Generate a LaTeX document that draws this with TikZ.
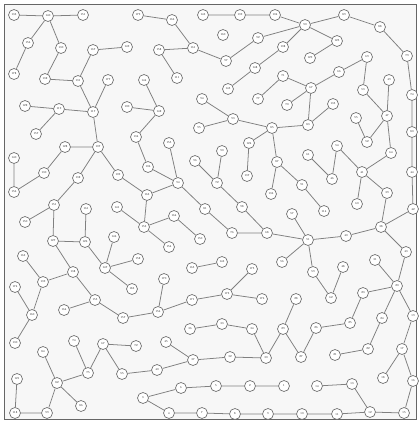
\documentclass[tikz,border=0pt]{standalone}
\begin{document}
\begin{tikzpicture}[x=0.1cm,y=-0.1cm,
  v/.style={circle,draw=black!60,fill=white,line width=1.8pt,minimum size=1.1cm,inner sep=0pt,font=\fontsize{8.5}{8.5}\selectfont},
  e/.style={draw=black!50,line width=2.2pt}]
\useasboundingbox (0,0) rectangle (420,423);
\draw[fill=black!3,draw=black!60,line width=2pt] (4,4) rectangle (416,419);
% nodes
\node[v] (n133) at (14,15) {133};
\node[v] (n140) at (48,16) {140};
\node[v] (n151) at (83,15) {151};
\node[v] (n156) at (28,43) {156};
\node[v] (n130) at (61,48) {130};
\node[v] (n167) at (93,50) {167};
\node[v] (n178) at (14,74) {178};
\node[v] (n132) at (45,79) {132};
\node[v] (n131) at (78,81) {131};
\node[v] (n177) at (108,80) {177};
\node[v] (n149) at (127,47) {149};
\node[v] (n122) at (25,106) {122};
\node[v] (n119) at (59,109) {119};
\node[v] (n117) at (93,112) {117};
\node[v] (n157) at (36,134) {157};
\node[v] (n179) at (138,15) {179};
\node[v] (n166) at (172,20) {166};
\node[v] (n143) at (203,15) {143};
\node[v] (n158) at (159,50) {158};
\node[v] (n161) at (193,48) {161};
\node[v] (n111) at (177,78) {111};
\node[v] (n144) at (144,80) {144};
\node[v] (n100) at (127,107) {100};
\node[v] (n142) at (159,111) {142};
\node[v] (n134) at (136,137) {134};
\node[v] (n155) at (169,143) {155};
\node[v] (n139) at (240,15) {139};
\node[v] (n104) at (275,15) {104};
\node[v] (n90) at (305,25) {90};
\node[v] (n160) at (223,35) {160};
\node[v] (n92) at (258,38) {92};
\node[v] (n108) at (283,47) {108};
\node[v] (n97) at (226,61) {97};
\node[v] (n129) at (310,58) {129};
\node[v] (n125) at (337,41) {125};
\node[v] (n89) at (344,15) {89};
\node[v] (n88) at (380,27) {88};
\node[v] (n79) at (407,56) {79};
\node[v] (n148) at (255,68) {148};
\node[v] (n145) at (228,89) {145};
\node[v] (n71) at (283,76) {71};
\node[v] (n67) at (311,88) {67};
\node[v] (n77) at (258,99) {77};
\node[v] (n70) at (287,105) {70};
\node[v] (n93) at (233,119) {93};
\node[v] (n85) at (272,128) {85};
\node[v] (n83) at (308,125) {83};
\node[v] (n124) at (249,143) {124};
\node[v] (n94) at (202,99) {94};
\node[v] (n95) at (199,128) {95};
\node[v] (n135) at (333,104) {135};
\node[v] (n69) at (367,57) {69};
\node[v] (n66) at (339,72) {66};
\node[v] (n53) at (363,90) {53};
\node[v] (n49) at (389,80) {49};
\node[v] (n74) at (412,95) {74};
\node[v] (n55) at (356,118) {55};
\node[v] (n47) at (387,116) {47};
\node[v] (n52) at (367,142) {52};
\node[v] (n80) at (412,132) {80};
\node[v] (n54) at (337,146) {54};
\node[v] (n64) at (391,153) {64};
\node[v] (n41) at (362,172) {41};
\node[v] (n44) at (412,172) {44};
\node[v] (n46) at (332,179) {46};
\node[v] (n39) at (387,193) {39};
\node[v] (n60) at (357,204) {60};
\node[v] (n42) at (413,209) {42};
\node[v] (n38) at (381,227) {38};
\node[v] (n40) at (346,236) {40};
\node[v] (n43) at (406,252) {43};
\node[v] (n31) at (375,260) {31};
\node[v] (n48) at (343,267) {48};
\node[v] (n59) at (313,272) {59};
\node[v] (n114) at (324,211) {114};
\node[v] (n61) at (308,155) {61};
\node[v] (n80b) at (222,151) {90};
\node[v] (n87) at (277,162) {87};
\node[v] (n72) at (217,183) {72};
\node[v] (n137) at (247,176) {137};
\node[v] (n136) at (271,194) {136};
\node[v] (n91) at (302,185) {91};
\node[v] (n98) at (242,207) {98};
\node[v] (n57) at (292,214) {57};
\node[v] (n76) at (232,233) {76};
\node[v] (n68) at (267,233) {68};
\node[v] (n51) at (308,240) {51};
\node[v] (n143b) at (222,262) {143};
\node[v] (n175) at (252,269) {175};
\node[v] (n56) at (282,262) {56};
\node[v] (n106) at (148,167) {106};
\node[v] (n109) at (118,175) {109};
\node[v] (n96) at (195,161) {96};
\node[v] (n94b) at (178,183) {94};
\node[v] (n163) at (147,195) {163};
\node[v] (n81) at (205,209) {81};
\node[v] (n141) at (117,207) {141};
\node[v] (n153) at (144,227) {153};
\node[v] (n164) at (174,216) {164};
\node[v] (n150c) at (200,239) {150};
\node[v] (n154) at (169,247) {154};
\node[v] (n146) at (114,237) {146};
\node[v] (n152) at (138,259) {152};
\node[v] (n147) at (105,268) {147};
\node[v] (n165) at (192,268) {165};
\node[v] (n170) at (164,279) {170};
\node[v] (n128) at (65,147) {128};
\node[v] (n107) at (98,147) {107};
\node[v] (n140b) at (14,158) {140};
\node[v] (n130b) at (44,173) {130};
\node[v] (n132b) at (78,178) {132};
\node[v] (n156b) at (14,192) {156};
\node[v] (n151b) at (54,205) {151};
\node[v] (n150) at (25,222) {150};
\node[v] (n161b) at (86,209) {161};
\node[v] (n127) at (53,241) {127};
\node[v] (n126) at (85,242) {126};
\node[v] (n163b) at (23,256) {163};
\node[v] (n138) at (73,272) {138};
\node[v] (n139b) at (43,282) {139};
\node[v] (n174) at (15,287) {174};
\node[v] (n160b) at (32,315) {160};
\node[v] (n155b) at (95,300) {155};
\node[v] (n164b) at (64,310) {164};
\node[v] (n136b) at (15,343) {130};
\node[v] (n74b) at (74,341) {74};
\node[v] (n67b) at (103,344) {67};
\node[v] (n84) at (43,352) {84};
\node[v] (n75) at (88,373) {75};
\node[v] (n82) at (57,383) {82};
\node[v] (n121) at (17,379) {121};
\node[v] (n86) at (81,406) {86};
\node[v] (n118) at (15,413) {118};
\node[v] (n99) at (47,413) {99};
\node[v] (n183) at (132,289) {183};
\node[v] (n157b) at (123,318) {157};
\node[v] (n156c) at (158,312) {156};
\node[v] (n171) at (192,300) {171};
\node[v] (n72b) at (136,346) {72};
\node[v] (n36) at (190,329) {36};
\node[v] (n45) at (166,342) {45};
\node[v] (n37) at (193,360) {37};
\node[v] (n55b) at (122,374) {55};
\node[v] (n40b) at (157,370) {40};
\node[v] (n3) at (143,398) {3};
\node[v] (n6) at (181,388) {6};
\node[v] (n4) at (169,413) {4};
\node[v] (n7) at (202,413) {7};
\node[v] (n173) at (227,294) {173};
\node[v] (n176) at (262,299) {176};
\node[v] (n33) at (222,324) {33};
\node[v] (n34) at (252,329) {34};
\node[v] (n28) at (296,299) {28};
\node[v] (n29) at (283,329) {29};
\node[v] (n32) at (230,357) {32};
\node[v] (n30) at (266,358) {30};
\node[v] (n27) at (301,357) {27};
\node[v] (n26) at (316,328) {26};
\node[v] (n5) at (216,386) {5};
\node[v] (n2) at (250,386) {2};
\node[v] (n1) at (284,386) {1};
\node[v] (n14) at (317,386) {14};
\node[v] (n8) at (235,414) {8};
\node[v] (n9) at (268,414) {9};
\node[v] (n10) at (302,414) {10};
\node[v] (n11) at (337,414) {11};
\node[v] (n12) at (370,412) {12};
\node[v] (n13) at (352,384) {13};
\node[v] (n15) at (404,413) {15};
\node[v] (n16) at (413,381) {16};
\node[v] (n18) at (383,378) {18};
\node[v] (n17) at (402,349) {17};
\node[v] (n21) at (335,355) {21};
\node[v] (n22) at (368,349) {22};
\node[v] (n25) at (350,323) {25};
\node[v] (n24) at (382,318) {24};
\node[v] (n19) at (413,316) {19};
\node[v] (n23) at (363,293) {23};
\node[v] (n20) at (397,286) {20};
\node[v] (n62) at (331,298) {62};
% edges
\path[e] (n133)--(n140) (n140)--(n151) (n140)--(n156) (n156)--(n178) (n140)--(n130) (n130)--(n132) (n132)--(n131) (n131)--(n167) (n167)--(n149) (n131)--(n117) (n177)--(n117) (n122)--(n119) (n119)--(n117) (n119)--(n157) (n117)--(n107);
\path[e] (n179)--(n166) (n166)--(n161) (n143)--(n139) (n158)--(n161) (n158)--(n111) (n161)--(n97) (n144)--(n142) (n100)--(n142) (n142)--(n134) (n134)--(n106) (n155)--(n94b);
\path[e] (n139)--(n104) (n104)--(n90) (n90)--(n92) (n92)--(n97) (n90)--(n108) (n108)--(n148) (n148)--(n145) (n90)--(n89) (n89)--(n88) (n88)--(n79) (n79)--(n74) (n74)--(n80) (n80)--(n44) (n44)--(n42) (n42)--(n38) (n90)--(n125) (n125)--(n129);
\path[e] (n69)--(n66) (n66)--(n67) (n69)--(n53) (n53)--(n47) (n49)--(n47) (n47)--(n52) (n55)--(n52) (n47)--(n64) (n64)--(n41) (n54)--(n41) (n54)--(n46) (n61)--(n46) (n41)--(n39) (n41)--(n60) (n39)--(n38) (n38)--(n40) (n40)--(n51) (n38)--(n43) (n43)--(n20) (n31)--(n20);
\path[e] (n71)--(n77) (n71)--(n67) (n70)--(n67) (n67)--(n83) (n83)--(n135) (n94)--(n93) (n95)--(n93) (n93)--(n85) (n85)--(n83) (n85)--(n124) (n124)--(n137) (n85)--(n87) (n87)--(n136) (n87)--(n91) (n91)--(n114);
\path[e] (n80b)--(n72) (n96)--(n72) (n72)--(n98) (n98)--(n68) (n76)--(n68) (n81)--(n76) (n68)--(n51) (n57)--(n51) (n56)--(n51) (n51)--(n59) (n59)--(n62) (n48)--(n62) (n175)--(n173);
\path[e] (n106)--(n94b) (n94b)--(n163) (n94b)--(n81) (n109)--(n163) (n107)--(n109) (n163)--(n153) (n141)--(n153) (n153)--(n164) (n153)--(n154) (n164)--(n150c) (n146)--(n147) (n152)--(n147) (n165)--(n143b) (n147)--(n183) (n126)--(n147);
\path[e] (n128)--(n107) (n107)--(n132b) (n132b)--(n151b) (n140b)--(n156b) (n156b)--(n130b) (n130b)--(n128) (n151b)--(n150) (n151b)--(n127) (n127)--(n126) (n161b)--(n126) (n127)--(n138) (n163b)--(n139b) (n138)--(n139b) (n139b)--(n160b) (n138)--(n155b);
\path[e] (n174)--(n160b) (n160b)--(n136b) (n164b)--(n155b) (n155b)--(n157b) (n157b)--(n156c) (n156c)--(n170) (n156c)--(n171) (n171)--(n173) (n173)--(n176) (n74b)--(n75) (n67b)--(n75) (n75)--(n82) (n84)--(n82) (n82)--(n86) (n82)--(n99) (n121)--(n118) (n118)--(n99) (n67b)--(n72b) (n67b)--(n55b) (n55b)--(n40b) (n40b)--(n37) (n45)--(n37) (n37)--(n32) (n32)--(n30);
\path[e] (n36)--(n33) (n33)--(n34) (n34)--(n30) (n30)--(n29) (n29)--(n28) (n29)--(n27) (n27)--(n26) (n26)--(n25) (n25)--(n23) (n23)--(n20) (n20)--(n24) (n20)--(n19) (n24)--(n22) (n22)--(n21) (n19)--(n17) (n17)--(n18) (n17)--(n16) (n16)--(n15) (n15)--(n12) (n12)--(n13) (n13)--(n14) (n12)--(n11) (n11)--(n10) (n10)--(n9) (n9)--(n8) (n8)--(n7) (n7)--(n4) (n4)--(n3) (n3)--(n6) (n6)--(n5) (n5)--(n2) (n2)--(n1);
\end{tikzpicture}
\end{document}
